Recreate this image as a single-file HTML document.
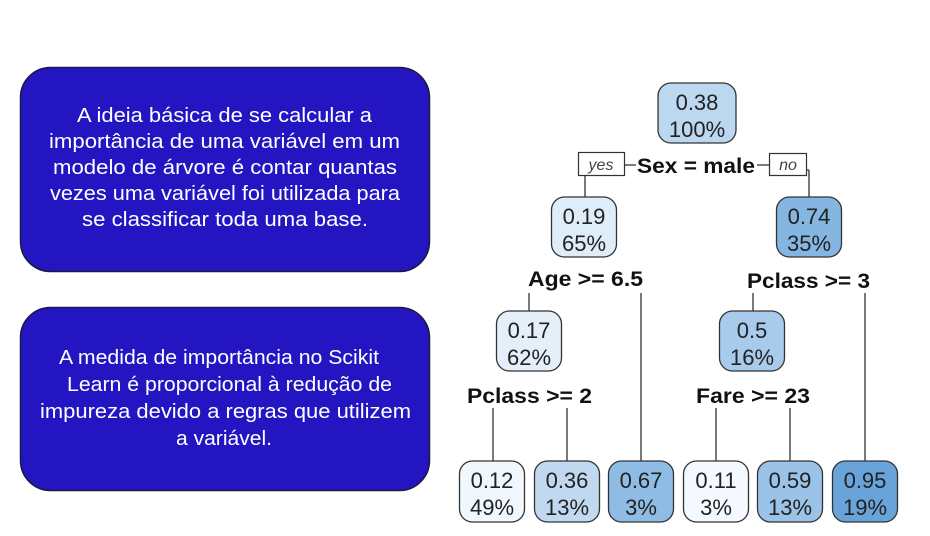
<!DOCTYPE html>
<html><head><meta charset="utf-8"><style>
html,body{margin:0;padding:0;background:#fff;}
svg{display:block;font-family:"Liberation Sans",Arial,sans-serif;}
</style></head><body>
<svg id="chart" width="930" height="536" viewBox="0 0 930 536">
<g>
<rect x="20.5" y="67.5" width="409" height="204" rx="30" fill="#2316c2" stroke="#1a1a40" stroke-width="1.5"/>
<g fill="#fff" font-size="20">
<text x="77" y="122" textLength="295" lengthAdjust="spacingAndGlyphs">A ideia básica de se calcular a</text>
<text x="49" y="148" textLength="351" lengthAdjust="spacingAndGlyphs">importância de uma variável em um</text>
<text x="53" y="174" textLength="344" lengthAdjust="spacingAndGlyphs">modelo de árvore é contar quantas</text>
<text x="50" y="200" textLength="350" lengthAdjust="spacingAndGlyphs">vezes uma variável foi utilizada para</text>
<text x="82" y="226" textLength="286" lengthAdjust="spacingAndGlyphs">se classificar toda uma base.</text>
</g></g>
<g>
<rect x="20.5" y="307.5" width="409" height="183" rx="30" fill="#2316c2" stroke="#1a1a40" stroke-width="1.5"/>
<g fill="#fff" font-size="20">
<text x="59" y="364" textLength="320" lengthAdjust="spacingAndGlyphs">A medida de importância no Scikit</text>
<text x="67" y="391" textLength="325" lengthAdjust="spacingAndGlyphs">Learn é proporcional à redução de</text>
<text x="40" y="418" textLength="371" lengthAdjust="spacingAndGlyphs">impureza devido a regras que utilizem</text>
<text x="176" y="445" textLength="96" lengthAdjust="spacingAndGlyphs">a variável.</text>
</g></g>
<g id="tree"></g>
</svg>
<script>
const nodeValues = [0.38, 0.19, 0.74, 0.17, 0.5, 0.12, 0.36, 0.67, 0.11, 0.59, 0.95];
const nodePercents = ["100%", "65%", "35%", "62%", "16%", "49%", "13%", "3%", "3%", "13%", "19%"];
const splitLabels = ["Sex = male", "Age >= 6.5", "Pclass >= 3", "Pclass >= 2", "Fare >= 23"];

const NS = "http://www.w3.org/2000/svg";
const g = document.getElementById("tree");
function el(tag, attrs, parent) {
  const e = document.createElementNS(NS, tag);
  for (const k in attrs) e.setAttribute(k, attrs[k]);
  (parent || g).appendChild(e);
  return e;
}
function fillFor(v) {
  const lo = [247, 251, 255], hi = [104, 164, 218];
  const t = Math.max(0, Math.min(1, (v - 0.1) / 0.85));
  const c = lo.map((l, i) => Math.round(l + (hi[i] - l) * Math.pow(t, 0.8)));
  return "rgb(" + c.join(",") + ")";
}
const layout = [[697,83],[584,197],[809,197],[529,311],[752,311],[492,461],[567,461],[641,461],[716,461],[790,461],[865,461]];
const lines = [
  [585,176,585,197],[809,170,809,197],
  [529,293,529,311],[641,293,641,461],[753,293,753,311],[865,293,865,461],
  [493,408,493,461],[567,408,567,461],[716,408,716,461],[790,408,790,461]
];
lines.forEach(l => {
  const ln = el("line", {x1:l[0], y1:l[1], x2:l[2], y2:l[3], stroke:"#333", "stroke-width":1.3});
  
  
});
el("line", {x1:624, y1:165, x2:636, y2:165, stroke:"#333", "stroke-width":1.3});
el("line", {x1:757, y1:165, x2:769, y2:165, stroke:"#333", "stroke-width":1.3});
el("line", {x1:806, y1:170, x2:809, y2:170, stroke:"#333", "stroke-width":1.3});
const yes = el("g", {});


el("rect", {x:578.5, y:152.5, width:46, height:23, fill:"#fff", stroke:"#333", "stroke-width":1.2}, yes);
el("text", {x:601, y:170, "text-anchor":"middle", "font-size":16, "font-style":"italic", fill:"#444"}, yes).textContent = "yes";
const no = el("g", {});


el("rect", {x:769.5, y:153.5, width:37, height:22, fill:"#fff", stroke:"#333", "stroke-width":1.2}, no);
el("text", {x:788, y:170, "text-anchor":"middle", "font-size":16, "font-style":"italic", fill:"#444"}, no).textContent = "no";
// split label positions: left x, baseline y, width
const splitPos = [[637,173,118],[528,286,115],[747,288,123],[467,403,125],[696,403,114]];
splitLabels.forEach((s, i) => {
  const t = el("text", {x:splitPos[i][0], y:splitPos[i][1], textLength:splitPos[i][2], lengthAdjust:"spacingAndGlyphs", "font-size":21, "font-weight":"bold", fill:"#111"});
  t.textContent = s;
  
  
});
nodeValues.forEach((v, i) => {
  const [cx, ty] = layout[i];
  const w = i === 0 ? 78 : 65, h = i < 5 ? 60 : 61;
  const ng = el("g", {});
  
  
  el("rect", {x:cx - w/2, y:ty, width:w, height:h, rx:13, fill:fillFor(v), stroke:"#333", "stroke-width":1.3}, ng);
  el("text", {x:cx, y:ty + 27, "text-anchor":"middle", "font-size":22, fill:"#222"}, ng).textContent = String(v);
  el("text", {x:cx, y:ty + 54, "text-anchor":"middle", "font-size":22, fill:"#222"}, ng).textContent = nodePercents[i];
});
</script>
</body></html>
